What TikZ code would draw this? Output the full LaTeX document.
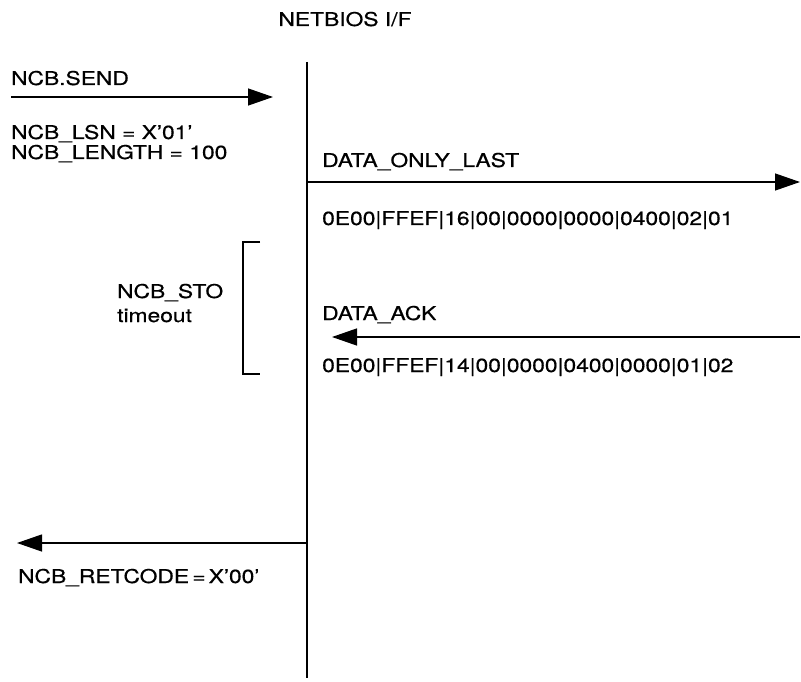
\documentclass[tikz,border=0pt]{standalone}
\usepackage{fontspec}
\setmainfont[FakeStretch=1.2, FakeBold=0.6]{TeX Gyre Heros}
\usetikzlibrary{
  arrows.meta, % For arrow tips
  positioning
}

\begin{document}
\begin{tikzpicture}[
      x=1pt, y=-1pt,
      >={Triangle[length=25pt, width=17pt]}, % Default arrow tip
      msg/.style={line width=1.3pt, ->}, % Style for message arrows
      iface/.style={line width=1.6pt}, % Style for the interface line
      lbl/.style={anchor=base west, inner sep=0pt, font=\fontsize{19}{23}\selectfont},
    ]
    \useasboundingbox (0,0) rectangle (801,682);

    % Schnittstelle
    \node[lbl, anchor=base] (nbif) at (345,26) {NETBIOS I/F};
    \coordinate (ifTop) at (307,62);
    \coordinate (ifBot) at (307,678);
    \draw[iface] (ifTop) -- (ifBot);

    % NCB.SEND (nach rechts)
    \node[lbl] (send) at (11,85) {NCB.SEND};
    \coordinate (sendA) at (11,97);
    \coordinate (sendB) at (273,97);
    \draw[msg] (sendA) -- (sendB);
    \node[lbl] (lsn) at (11,139) {NCB\_LSN = X’01’};
    \node[lbl] (len) at (11,159) {NCB\_LENGTH = 100};

    % DATA_ONLY_LAST
    \node[lbl] (dol) at (322,167) {DATA\_ONLY\_LAST};
    \coordinate (dolA) at (307,182);
    \coordinate (dolB) at (800,182);
    \draw[msg] (dolA) -- (dolB);
    \node[lbl] (dolHex) at (322,225) {0E00|FFEF|16|00|0000|0000|0400|02|01};

    % Timeout-Klammer
    \coordinate (stoTop) at (243,242);
    \coordinate (stoBot) at (243,374);
    \draw[line width=1.3pt] ([xshift=17pt]stoTop) -- (stoTop) -- (stoBot) -- ([xshift=17pt]stoBot);
    \node[lbl] (sto) at (117,298) {NCB\_STO};
    \node[lbl] (tmo) at (117,322) {timeout};

    % DATA_ACK (nach links)
    \node[lbl] (ack) at (322,320) {DATA\_ACK};
    \coordinate (ackA) at (800,337);
    \coordinate (ackB) at (332,337);
    \draw[msg] (ackA) -- (ackB);
    \node[lbl] (ackHex) at (322,372) {0E00|FFEF|14|00|0000|0400|0000|01|02};

    % Rueckgabe
    \coordinate (retA) at (307,543);
    \coordinate (retB) at (17,543);
    \draw[msg] (retA) -- (retB);
    \node[lbl] (ret) at (18,583) {NCB\_RETCODE\,=\,X’00’};

  \end{tikzpicture}
\end{document}
